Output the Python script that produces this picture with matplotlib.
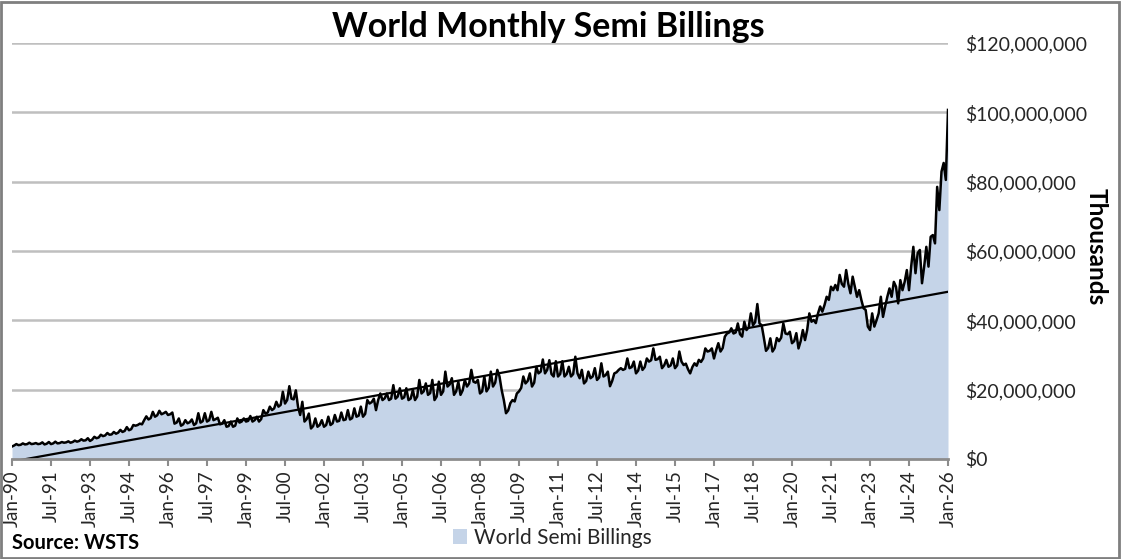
import numpy as np
import pandas as pd
import matplotlib
matplotlib.use("Agg")
import matplotlib.pyplot as plt
from matplotlib.patches import Rectangle, Patch
from matplotlib.ticker import FuncFormatter

plt.rcParams["font.family"] = ["Lato", "DejaVu Sans"]

# Billings by month, millions of thousands
Y1990 = [3.6, 3.9, 4.3, 4.0, 4.1, 4.5, 4.2, 4.3, 4.7, 4.3, 4.4, 4.6]
Y1991 = [4.3, 4.4, 4.8, 4.2, 4.4, 4.9, 4.3, 4.5, 5.0, 4.5, 4.6, 4.9]
Y1992 = [4.7, 4.8, 5.1, 4.7, 4.9, 5.3, 5.0, 5.2, 5.7, 5.3, 5.4, 6.0]
Y1993 = [5.2, 5.6, 6.4, 6.0, 6.2, 7.0, 6.6, 6.8, 7.5, 7.0, 7.1, 7.8]
Y1994 = [7.3, 7.6, 8.4, 7.8, 8.1, 9.2, 8.3, 8.6, 9.8, 9.6, 9.8, 10.2]
Y1995 = [10.0, 11.2, 12.3, 11.4, 11.8, 13.6, 12.2, 12.6, 13.9, 12.9, 13.2, 13.6]
Y1996 = [12.7, 12.9, 13.4, 10.2, 10.5, 11.7, 9.6, 10.0, 11.2, 10.3, 10.6, 11.4]
Y1997 = [9.8, 10.3, 13.2, 10.5, 10.9, 13.2, 10.8, 11.2, 13.6, 11.2, 11.5, 11.9]
Y1998 = [10.0, 10.2, 11.2, 9.3, 9.5, 10.8, 9.3, 9.6, 11.7, 10.5, 10.8, 11.7]
Y1999 = [10.8, 11.0, 12.4, 10.8, 11.2, 12.2, 10.8, 11.5, 14.1, 13.1, 13.4, 15.1]
Y2000 = [14.1, 14.6, 16.5, 15.1, 15.6, 19.4, 16.0, 17.0, 21.0, 17.4, 17.2, 19.8]
Y2001 = [15.1, 12.7, 16.5, 10.8, 11.5, 13.1, 8.8, 9.5, 11.7, 9.3, 9.8, 11.2]
Y2002 = [9.3, 9.8, 12.2, 9.8, 10.3, 12.7, 10.8, 11.0, 13.4, 11.2, 11.4, 14.1]
Y2003 = [11.4, 11.8, 14.6, 12.2, 12.5, 15.1, 12.2, 13.0, 17.0, 16.0, 16.4, 17.4]
Y2004 = [14.1, 17.0, 18.9, 17.0, 17.5, 18.9, 17.0, 17.4, 21.3, 17.4, 18.0, 20.4]
Y2005 = [17.4, 17.8, 20.4, 17.0, 17.4, 19.9, 17.0, 18.0, 22.8, 18.9, 19.5, 21.8]
Y2006 = [18.5, 19.0, 22.8, 17.0, 18.0, 22.3, 18.5, 19.5, 25.2, 20.9, 21.5, 23.3]
Y2007 = [18.5, 19.5, 22.3, 18.5, 19.8, 22.8, 20.9, 21.8, 25.7, 22.3, 22.0, 22.8]
Y2008 = [18.9, 19.5, 23.8, 19.5, 20.5, 25.2, 20.9, 22.0, 25.7, 23.8, 19.9, 17.0]
Y2009 = [13.2, 14.0, 16.1, 17.0, 16.6, 18.9, 19.5, 20.5, 23.8, 21.8, 22.5, 24.7]
Y2010 = [20.9, 22.0, 26.6, 24.7, 25.2, 28.7, 24.7, 25.7, 28.5, 24.5, 23.8, 28.2]
Y2011 = [23.8, 24.5, 28.2, 23.8, 24.5, 26.6, 23.8, 24.5, 29.5, 24.7, 23.3, 25.7]
Y2012 = [21.8, 22.5, 25.2, 23.3, 23.8, 26.2, 22.8, 23.5, 27.6, 23.8, 24.2, 25.2]
Y2013 = [21.0, 22.5, 24.7, 25.0, 25.7, 26.2, 25.7, 26.0, 29.0, 26.2, 26.5, 28.1]
Y2014 = [24.7, 25.5, 28.1, 25.7, 26.5, 29.0, 28.1, 28.5, 31.9, 28.6, 28.8, 29.5]
Y2015 = [26.2, 27.0, 28.6, 26.6, 27.0, 29.0, 26.2, 27.0, 31.0, 28.1, 27.1, 27.5]
Y2016 = [25.9, 24.7, 26.5, 27.6, 26.9, 28.6, 28.0, 29.0, 31.9, 31.0, 31.2, 31.9]
Y2017 = [29.0, 31.4, 33.4, 31.0, 32.0, 35.3, 36.2, 36.5, 37.7, 36.2, 36.5, 39.1]
Y2018 = [36.0, 35.3, 39.6, 37.2, 38.0, 42.0, 38.6, 39.5, 44.7, 39.1, 38.6, 35.0]
Y2019 = [31.2, 32.0, 34.8, 31.0, 32.0, 34.9, 34.0, 35.0, 39.1, 36.2, 36.0, 36.7]
Y2020 = [33.4, 34.0, 36.3, 31.9, 34.0, 37.2, 34.3, 37.2, 42.0, 39.6, 40.1, 39.2]
Y2021 = [42.0, 44.0, 42.5, 44.4, 46.8, 45.9, 49.7, 48.7, 50.2, 48.7, 53.1, 50.5]
Y2022 = [49.7, 54.5, 50.5, 47.8, 52.6, 49.7, 46.8, 48.7, 45.9, 43.5, 43.0, 38.2]
Y2023 = [37.2, 42.0, 38.2, 40.0, 42.0, 46.8, 41.0, 44.0, 46.8, 49.2, 46.8, 51.1]
Y2024 = [49.7, 44.9, 51.6, 48.7, 51.1, 54.5, 48.7, 55.5, 61.2, 53.6, 59.4, 60.3]
Y2025 = [50.7, 55.5, 61.2, 55.5, 64.1, 64.6, 62.2, 78.5, 71.8, 82.9, 85.4, 80.5]
Y2026 = [100.7]

YEARS = [Y1990, Y1991, Y1992, Y1993, Y1994, Y1995, Y1996, Y1997, Y1998, Y1999,
         Y2000, Y2001, Y2002, Y2003, Y2004, Y2005, Y2006, Y2007, Y2008, Y2009,
         Y2010, Y2011, Y2012, Y2013, Y2014, Y2015, Y2016, Y2017, Y2018, Y2019,
         Y2020, Y2021, Y2022, Y2023, Y2024, Y2025, Y2026]

values = np.array([v for yr in YEARS for v in yr]) * 1e6
dates = pd.date_range("1990-01-01", periods=len(values), freq="MS")
idx = np.arange(len(values))

# tick every 18 months, like the sheet
tick_pos = idx[::18]
tick_labels = [d.strftime("%b-%y") for d in dates[::18]]

# linear trend (Excel style)
slope, icpt = np.polyfit(idx, values, 1)
trend = slope * idx + icpt

FILL = "#C5D4E8"
GRID = "#BFBFBF"
TXT = "#262626"

fig = plt.figure(figsize=(11.21, 5.59), dpi=100)
ax = fig.add_axes([12 / 1121, 1 - 459 / 559, 936 / 1121, 416 / 559])

ax.fill_between(idx, values, 0, color=FILL, lw=0, zorder=1)
ax.plot(idx, values, color="black", lw=1.8, zorder=3)
ax.plot(idx, trend, color="black", lw=1.6, zorder=4)

ax.set_xlim(0, len(values) - 1)
ax.set_ylim(0, 120e6)
ax.set_yticks(np.arange(0, 121e6, 20e6))
ax.yaxis.set_major_formatter(FuncFormatter(lambda v, p: f"${v:,.0f}"))
ax.yaxis.tick_right()
ax.grid(axis="y", color=GRID, lw=1.8, zorder=0)
ax.set_axisbelow(True)

ax.set_xticks(tick_pos)
ax.set_xticklabels(tick_labels, rotation=90, fontsize=13.5, color=TXT)
ax.tick_params(axis="x", length=5, width=1.5, color="#8C8C8C", pad=3)
ax.tick_params(axis="y", length=0, pad=12, labelsize=14, labelcolor=TXT)

for s in ["top", "left", "right"]:
    ax.spines[s].set_visible(False)
ax.spines["bottom"].set_color("#8C8C8C")
ax.spines["bottom"].set_linewidth(2)
ax.spines["bottom"].set_zorder(5)

fig.text(548 / 1121, 1 - 27 / 559, "World Monthly Semi Billings", ha="center",
         va="center", fontsize=24.5, fontweight="bold", color="black")
fig.text(1096 / 1121, 1 - 247 / 559, "Thousands", rotation=-90, ha="center",
         va="center", fontsize=17.5, fontweight="bold", color="black")
fig.text(12 / 1121, 1 - 543 / 559, "Source: WSTS", ha="left", va="center",
         fontsize=14.5, fontweight="bold", color="black")

fig.legend(handles=[Patch(facecolor=FILL, edgecolor="none", label="World Semi Billings")],
           loc="center", bbox_to_anchor=(552 / 1121, 1 - 538 / 559), frameon=False,
           fontsize=15, handlelength=0.7, handleheight=0.7, handletextpad=0.3,
           labelcolor=TXT)

fig.patches.append(Rectangle((0.001, 0.002), 0.997, 0.995, transform=fig.transFigure,
                             fill=False, edgecolor="#7F7F7F", lw=2))

fig.savefig("out.png", dpi=100)
